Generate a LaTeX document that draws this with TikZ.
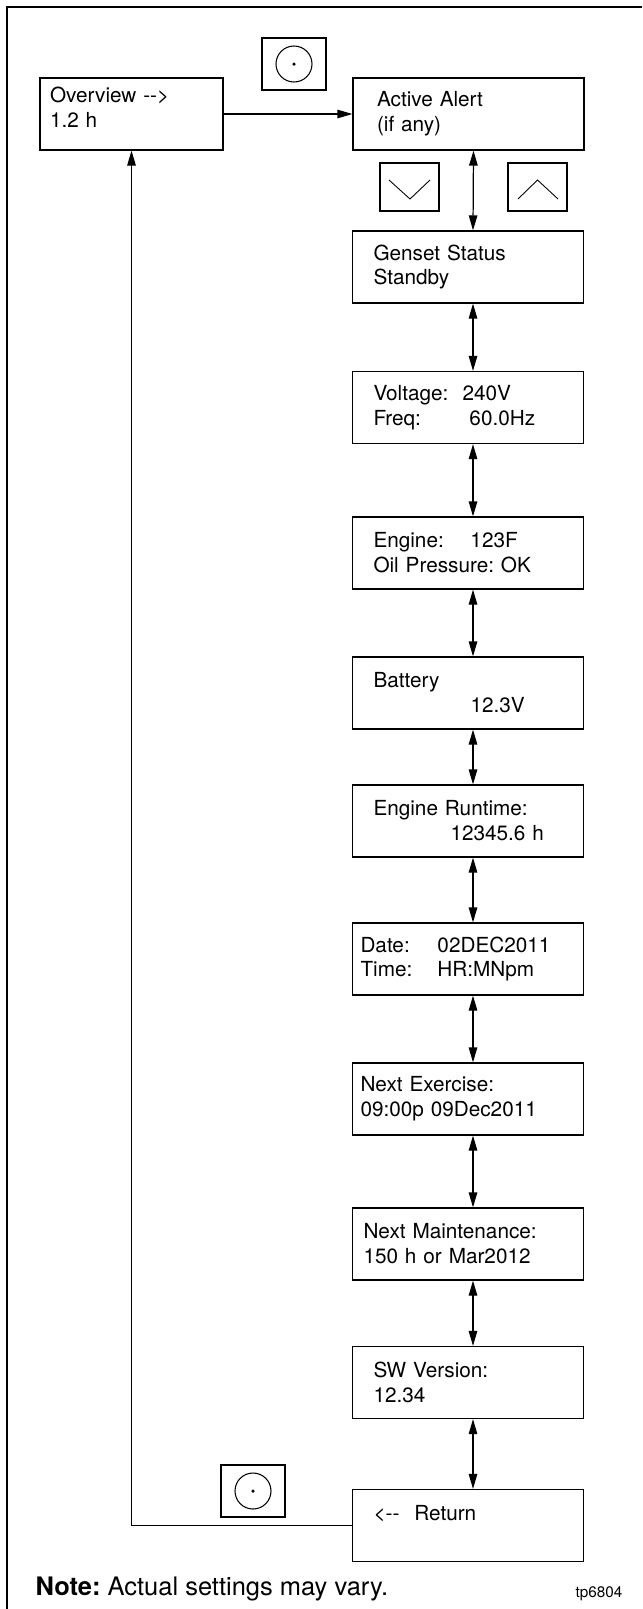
\documentclass[tikz,border=0pt]{standalone}
\usepackage{fontspec}
\setmainfont{TeX Gyre Heros}
\usetikzlibrary{arrows.meta}
\newcommand{\okkey}[2]{%   select key: a circle with a dot
  \node[key, minimum width=1.28cm, minimum height=1.04cm] (#1) at (#2) {};
  \draw[line width=0.6pt] (#1.center) circle (0.36);
  \fill (#1.center) circle (0.035);}
\newcommand{\fieldat}[2]{\makebox[#1][l]{#2}}
\frenchspacing

\begin{document}
\begin{tikzpicture}[font=\fontsize{11.8}{14.2}\selectfont, line width=0.7pt,
    >={Triangle[length=0.3cm,width=0.17cm]},
    screen/.style={draw, minimum height=1.44cm, inner ysep=0pt,
      inner xsep=0.42cm, text width=3.78cm, align=left},
    key/.style={draw, line width=0.6pt, inner sep=0pt}]

\useasboundingbox (0,0) rectangle (12.84,-32.18);
\draw[line width=1.4pt] (0.14,-32.18) -- (0.14,-0.14) -- (12.84,-0.14);

% ---- top row
\node[screen, inner xsep=0.2cm, text width=3.26cm] (ov) at (2.63,-2.28)
  {Overview {-}{-}>\\1.2 h\rule[-0.26cm]{0pt}{0.26cm}};
\node[screen, inner xsep=0.48cm, text width=3.66cm] (alert) at (9.37,-2.28)
  {Active Alert\\(if any)};

% ---- screens, top to bottom
\node[screen] (genset) at (9.36,-5.34) {Genset Status\\Standby};
\node[screen] (volt) at (9.36,-8.15)
  {\fieldat{1.78cm}{Voltage:}240V\\\fieldat{1.92cm}{Freq:}60.0Hz};
\node[screen] (engine) at (9.36,-11.06)
  {\fieldat{1.94cm}{Engine:}123F\\Oil Pressure: OK};
\node[screen] (batt) at (9.36,-13.86) {Battery\\\hspace*{1.94cm}12.3V};
\node[screen] (runtime) at (9.36,-16.42)
  {Engine Runtime:\\\hspace*{1.54cm}12345.6 h};
\node[screen, inner xsep=0.16cm, text width=4.30cm] (date) at (9.36,-19.18)
  {\fieldat{1.54cm}{Date:}02DEC2011\\\fieldat{1.54cm}{Time:}HR:MNpm};
\node[screen, inner xsep=0.16cm, text width=4.30cm] (exer) at (9.36,-21.98)
  {Next Exercise:\\09:00p 09Dec2011};
\node[screen, inner xsep=0.22cm, text width=4.18cm] (maint) at (9.36,-24.88)
  {Next Maintenance:\\150 h or Mar2012};
\node[screen] (swver) at (9.36,-27.65) {SW Version:\\12.34};
\node[screen] (ret) at (9.36,-30.51) {<{-}{-}\hspace{0.3cm}Return\\\mbox{}};

% ---- keys
\okkey{okTop}{5.88,-1.28}
\node[key, minimum width=1.18cm, minimum height=0.96cm] (keyDown) at (8.19,-3.74) {};
\draw[line width=0.5pt] ([shift={(-0.41,0.14)}]keyDown.center) -- ++(0.42,-0.38) -- ++(0.40,0.38);
\node[key, minimum width=1.18cm, minimum height=0.96cm] (keyUp) at (10.75,-3.74) {};
\draw[line width=0.5pt] ([shift={(-0.39,-0.24)}]keyUp.center) -- ++(0.39,0.38) -- ++(0.41,-0.38);
\okkey{okBot}{5.06,-29.82}

% ---- connectors
\draw[->] (ov.east) -- (alert.west);
\foreach \a/\b in {alert/genset, genset/volt, volt/engine, engine/batt, batt/runtime,
                   runtime/date, date/exer, exer/maint, maint/swver, swver/ret}
  \draw[<->] ([xshift=0.1cm]\a.south) -- ([xshift=0.1cm]\b.north);
\draw[->] (ret.west) -| (ov.south);

% ---- footer
\node[anchor=base west, inner sep=0pt, font=\fontsize{14.5}{17}\selectfont] (note)
  at (0.70,-31.90) {\textbf{Note:} Actual settings may vary.};
\node[anchor=base east, inner sep=0pt, font=\fontsize{8.7}{10}\selectfont] (tag)
  at (12.46,-31.94) {tp6804};
\end{tikzpicture}
\end{document}
